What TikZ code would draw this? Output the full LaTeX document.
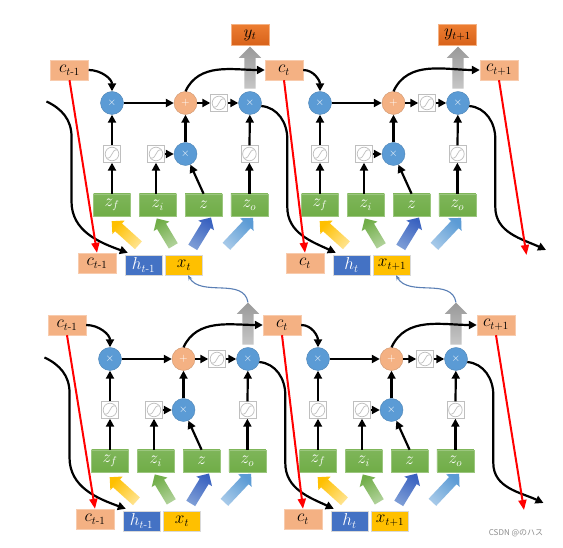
\documentclass[tikz,border=0pt]{standalone}
\usepackage{amsmath,amssymb,amsfonts}
\usepackage{xcolor}
\usepackage{fontspec}
\newfontfamily\jpfont{Noto Sans CJK JP}
\usepackage{tikz}
\usetikzlibrary{arrows.meta,shapes.arrows}

\definecolor{cfill}{HTML}{F4B183}
\definecolor{cline}{HTML}{F8CBAD}
\definecolor{yorg}{HTML}{ED7D31}
\definecolor{ydark}{HTML}{D8621A}
\definecolor{zgreen}{HTML}{70AD47}
\definecolor{hblue}{HTML}{4472C4}
\definecolor{xgold}{HTML}{FFC000}
\definecolor{mblue}{HTML}{5B9BD5}
\definecolor{dblue}{HTML}{3A62C0}
\definecolor{linkblue}{HTML}{5A7FB5}

\tikzset{
  arr/.style={line width=2.2, -{Triangle[length=8pt,width=8pt]}},
  redarr/.style={draw=red, line width=2, -{Triangle[length=10pt,width=8pt]}},
  hlink/.style={draw=linkblue, line width=1.1, -{Stealth[length=5pt,width=4pt]}},
  lbl/.style={inner sep=0, font=\fontsize{16}{18}\selectfont},
  cbox/.style={lbl, draw=cline, fill=cfill, minimum width=38, minimum height=20},
  ybox/.style={lbl, draw=yorg!60, top color=yorg, bottom color=ydark, minimum width=38, minimum height=21},
  gbox/.style={lbl, draw=zgreen!70, top color=zgreen!90, bottom color=zgreen, text=white, minimum width=37, minimum height=22},
  hidbox/.style={lbl, draw=black!15, fill=hblue, text=white, minimum width=37, minimum height=20},
  xbox/.style={lbl, draw=black!15, fill=xgold, minimum width=37, minimum height=20},
  mul/.style={circle, draw=mblue!85!black, fill=mblue, text=white, minimum size=23, inner sep=0, font=\fontsize{11}{11}\selectfont},
  add/.style={mul, draw=cfill!85!black, fill=cfill},
  sig/.style={draw=black!25, fill=white, minimum size=17, inner sep=0,
    path picture={\begin{scope}[shift={(path picture bounding box.center)}]
      \draw[line width=0.7] (0,0) circle (6.8);
      \draw[line width=0.7] (-5.5,-4.2) .. controls (1.5,-4.5) and (-1.5,4.5) .. (5.5,4.2);
    \end{scope}}},
  fat/.style={single arrow, text height=5pt, text depth=5pt, single arrow head extend=4, minimum height=36, inner sep=0, draw=none},
  outarr/.style={single arrow, rotate=90, text height=5.5pt, text depth=5.5pt, single arrow head extend=5.5, minimum height=42, inner sep=0, draw=none, top color=black!40, bottom color=black!22}
}

\begin{document}
\begin{tikzpicture}[x=1pt, y=1pt]
    \path[use as bounding box, fill=white] (0,0) rectangle (563,548);

    \foreach \k/\cx/\cy/\lab in {1/69.5/478/{t\text{-}1}, 2/284/478/t, 3/499/478/{t+1}, 4/67/223/{t\text{-}1}, 5/282/223/t, 6/496/223/{t+1}}
        \node[cbox] (cu\k) at (\cx,\cy) {$c_{\lab}$};

    \foreach \i/\cx/\cy/\ci/\co/\sc/\sx in {1/112/445/cu1/cu2/{t\text{-}1}/t, 2/320/445/cu2/cu3/t/{t+1}, 3/110/189/cu4/cu5/{t\text{-}1}/t, 4/318/189/cu5/cu6/t/{t+1}}{
    \begin{scope}[shift={(\cx,\cy)}]
        \node[outarr] (ga\i) at (138,32.5) {};
        \node[mul] (fx\i) at (0,0) {$\times$};
        \node[add] (pl\i) at (73.5,0) {$+$};
        \node[sig] (sc\i) at (107,0) {};
        \node[mul] (ox\i) at (138,0) {$\times$};
        \node[sig] (sf\i) at (0,-51) {};
        \node[sig] (si\i) at (44,-51) {};
        \node[mul] (ix\i) at (73.5,-51) {$\times$};
        \node[sig] (so\i) at (137.4,-51) {};
        \node[gbox] (zf\i) at (0,-102) {$z_f$};
        \node[gbox] (zi\i) at (45.8,-102) {$z_i$};
        \node[gbox] (zz\i) at (91.6,-102) {$z$};
        \node[gbox] (zo\i) at (137.4,-102) {$z_o$};
        \node[fat, top color=xgold, bottom color=xgold!45, shading angle=48, rotate=138] (fy\i) at (15,-132) {};
        \node[fat, top color=zgreen, bottom color=zgreen!55, shading angle=31, rotate=121, minimum height=32] (fg\i) at (54.4,-131.4) {};
        \node[fat, top color=dblue, bottom color=hblue!70, shading angle=-31.4, rotate=58.6, minimum height=35] (fb\i) at (88.5,-131.7) {};
        \node[fat, top color=mblue, bottom color=mblue!55, shading angle=-43.3, rotate=46.7, minimum height=39] (fl\i) at (126,-131) {};
        \node[cbox] (cl\i) at (-15,-160) {$c_{\sc}$};
        \node[hidbox] (hb\i) at (31.5,-162) {$h_{\sc}$};
        \node[xbox] (xb\i) at (72,-162) {$x_{\sx}$};
        \coordinate (hn\i) at ([xshift=3,yshift=2]hb\i.north west);

        \draw[arr] (\ci.east) to[out=0,in=90] (fx\i.north);
        \draw[arr] (fx\i) -- (pl\i);
        \draw[arr] (pl\i) -- (sc\i);
        \draw[arr] (sc\i) -- (ox\i);
        \draw[arr] (pl\i.north) to[out=65,in=180] (\co.west);
        \draw[arr] (sf\i) -- (fx\i);
        \draw[arr] (si\i) -- (ix\i);
        \draw[arr] (ix\i) -- (pl\i);
        \draw[arr] (so\i) -- (ox\i);
        \draw[arr] (zf\i) -- (sf\i);
        \draw[arr] (zi\i.north -| si\i) -- (si\i);
        \draw[arr] (zz\i.north) -- (ix\i);
        \draw[arr] (zo\i) -- (so\i);
    \end{scope}
    }

    \node[ybox] (yo1) at (250,513) {$y_t$};
    \node[ybox] (yo2) at (457.5,513) {$y_{t+1}$};

    \coordinate (in1) at (46.5,446.5);
    \coordinate (in3) at (44.5,190.5);
    \coordinate (ho2) at (546,298);
    \coordinate (ho4) at (543.5,45);
    \coordinate (ce2) at (526.5,293);
    \coordinate (ce4) at (524,38);

    \foreach \i in {1,3}
        \draw[arr] (in\i) to[out=-25,in=90] ++(25,-35) -- ++(0,-65) to[out=-90,in=160] (hn\i);
    \foreach \i/\t in {1/hn2, 2/ho2, 3/hn4, 4/ho4}
        \draw[arr] (ox\i.-15) to[out=-5,in=90] ++(26,-33) -- ++(0,-68) to[out=-90,in=155] (\t);
    \foreach \a/\b in {cu1/cl1.north, cu2/cl2.north, cu3/ce2, cu4/cl3.north, cu5/cl4.north, cu6/ce4}
        \draw[redarr] (\a.south) -- (\b);

    \draw[hlink] (ga3.tip) to[out=100,in=-60] ([xshift=4]xb1.south);
    \draw[hlink] (ga4.tip) to[out=100,in=-60] ([xshift=4]xb2.south);

    \node[text=black!45, font=\jpfont\fontsize{8}{9}\selectfont] (wm) at (516,15) {CSDN @のハス};
\end{tikzpicture}
\end{document}
